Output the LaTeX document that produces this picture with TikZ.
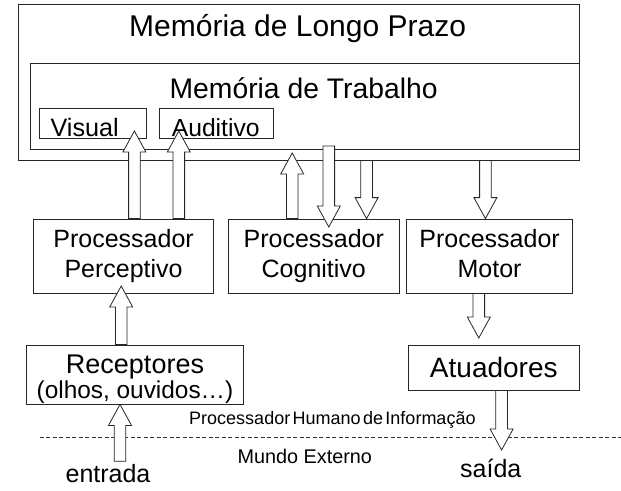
\documentclass[tikz,border=0pt]{standalone}
\usepackage{fontspec}
\setmainfont{Liberation Sans}
\usetikzlibrary{calc}

\newcommand{\fs}[1]{\fontsize{#1}{#1}\selectfont}
\newcommand{\fatarrow}[2]{%
  \coordinate (fa-b) at ($(#2)!21pt!(#1)$);
  \draw[fat] ($(#1)!5.8pt!90:(#2)$) -- ($(fa-b)!5.8pt!90:(#2)$)
    -- ($(fa-b)!11.5pt!90:(#2)$) -- (#2) -- ($(fa-b)!11.5pt!-90:(#2)$)
    -- ($(fa-b)!5.8pt!-90:(#2)$) -- ($(#1)!5.8pt!-90:(#2)$) -- cycle;
}

\begin{document}
\begin{tikzpicture}[x=1pt, y=-1pt]
    \tikzset{
      box/.style={draw=black!85, line width=0.8pt, inner sep=0pt, align=center},
      fat/.style={draw=black!85, line width=0.8pt, fill=white, line join=miter},
      proc/.style={box, minimum width=#1, minimum height=74pt,
        font=\fontsize{25}{30}\selectfont},
    }
    \useasboundingbox (0,0) rectangle (621,490);

    \node[box, minimum width=561.6pt, minimum height=156pt] (ltm) at (298.8,82) {};
    \node[box, minimum width=549.6pt, minimum height=86pt] (wm) at (304.8,106) {};
    \node[font=\fs{30}] (ltmlab) at (297.6,29) {Memória de Longo Prazo};
    \node[font=\fs{28.3}] (wmlab) at (303.6,88) {Memória de Trabalho};
    \node[box, minimum width=106.8pt, minimum height=30pt] (vis) at (93,123) {};
    \node[box, minimum width=114pt, minimum height=30pt] (aud) at (216.6,123) {};
    \node[anchor=base west, inner sep=0pt, font=\fs{25.2}] (vislab) at (50.4,136.5) {Visual};
    \node[anchor=base west, inner sep=0pt, font=\fs{24.7}] (audlab) at (171.6,136.5) {Auditivo};

    \node[proc=180pt] (perc) at (123.6,256) {Processador\\Perceptivo};
    \node[proc=171.6pt] (cog) at (313.8,256) {Processador\\Cognitivo};
    \node[proc=165.6pt] (mot) at (489.6,256) {Processador\\Motor\vphantom{p}};

    \node[box, minimum width=217.2pt, minimum height=59pt] (rec) at (135,374.5) {};
    \node[anchor=base, font=\fs{27}] (reclab) at (135,373) {Receptores};
    \node[anchor=base, font=\fs{24.4}] (recsub) at (135,398.5) {(olhos, ouvidos…)};
    \node[box, minimum width=171.6pt, minimum height=45pt, font=\fs{28}] (atu) at (493.8,367.5) {Atuadores};

    \draw[black!80, line width=0.6pt, dash pattern=on 4pt off 2.5pt] (39.6,437) -- (621,437);
    \node[font=\fs{18}] (phi) at (332.4,420) {\spaceskip=2.4pt Processador Humano de Informação};
    \node[font=\fs{19.8}] (mundo) at (304.8,456) {Mundo Externo};
    \node[font=\fs{25}] (entrada) at (108,474) {entrada};
    \node[font=\fs{25}] (saida) at (490.8,468) {saída};

    \fatarrow{134.4,0 |- perc.north}{134.4,131}
    \fatarrow{178.8,0 |- perc.north}{178.8,131}
    \fatarrow{292.2,0 |- cog.north}{292.2,153}
    \fatarrow{328.8,146}{328.8,227}
    \fatarrow{366.6,0 |- ltm.south}{366.6,0 |- cog.north}
    \fatarrow{485.4,0 |- ltm.south}{485.4,0 |- mot.north}
    \fatarrow{121.2,0 |- rec.north}{121.2,286}
    \fatarrow{478.8,0 |- mot.south}{478.8,338}
    \fatarrow{120,0 |- entrada.north}{120,0 |- rec.south}
    \fatarrow{501.6,0 |- atu.south}{501.6,450}
  \end{tikzpicture}
\end{document}
